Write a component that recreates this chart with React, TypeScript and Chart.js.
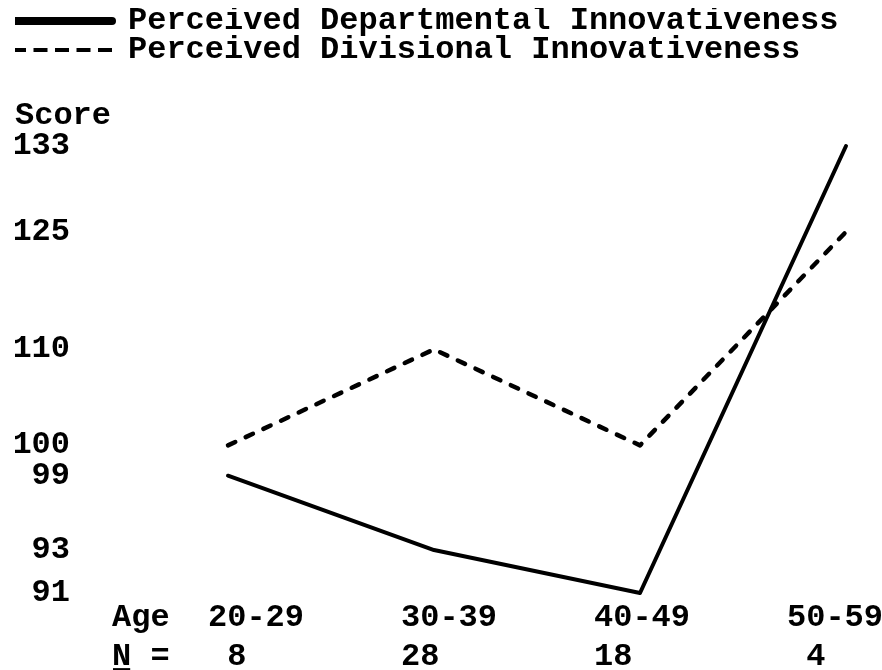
import React, { useEffect, useRef } from 'react';
import { Chart, registerables, LinearScale } from 'chart.js';

// ---- data ----
const AGE_GROUPS = ['20-29', '30-39', '40-49', '50-59'];
const N_COUNTS = [8, 28, 18, 4];
const DEPARTMENTAL = [99, 93, 91, 133];
const DIVISIONAL = [100, 110, 100, 125];
const Y_TICKS = [91, 93, 99, 100, 110, 125, 133];
const SERIES_NAMES = ['Perceived Departmental Innovativeness', 'Perceived Divisional Innovativeness'];
const Y_TITLE = 'Score';
const ROW_TITLES = ['Age', 'N ='];

// ---- style ----
const FONT_FAMILY = "'Liberation Mono', 'DejaVu Sans Mono', monospace";
const FONT_SIZE = 32;
const LINE_HEIGHT = 1.2;
const X_LABEL_PAD = 6;

// Scale whose tick gaps grow with the square root of the value difference,
// values between ticks are interpolated linearly (hand-spaced axis of the original).
class TickGapScale extends LinearScale {
  static id = 'tickGap';
  static defaults = LinearScale.defaults;

  gapInfo() {
    const vals = this.ticks.map((t: any) => t.value).sort((a: number, b: number) => a - b);
    const w: number[] = [];
    let total = 0;
    for (let i = 1; i < vals.length; i++) {
      const g = Math.sqrt(vals[i] - vals[i - 1]);
      w.push(g);
      total += g;
    }
    return { vals, w, total };
  }

  tickDecimal(value: number): number {
    const { vals, w, total } = this.gapInfo();
    if (vals.length < 2 || total === 0) return 0;
    let acc = 0;
    for (let i = 1; i < vals.length; i++) {
      const lo = vals[i - 1];
      const hi = vals[i];
      if (value <= hi || i === vals.length - 1) {
        const f = (value - lo) / (hi - lo);
        return (acc + f * w[i - 1]) / total;
      }
      acc += w[i - 1];
    }
    return 0;
  }

  getPixelForValue(value: number) {
    return this.getPixelForDecimal(this.tickDecimal(value));
  }

  getValueForPixel(pixel: number) {
    const { vals, w, total } = this.gapInfo();
    if (vals.length < 2 || total === 0) return this.min;
    const d = this.getDecimalForPixel(pixel) * total;
    let acc = 0;
    for (let i = 1; i < vals.length; i++) {
      if (d <= acc + w[i - 1] || i === vals.length - 1) {
        const f = (d - acc) / w[i - 1];
        return vals[i - 1] + f * (vals[i] - vals[i - 1]);
      }
      acc += w[i - 1];
    }
    return this.max;
  }
}

Chart.register(...registerables, TickGapScale as any);

const rowTitlesPlugin = {
  id: 'rowTitles',
  afterDraw(chart: any) {
    const xl = chart.scales.xl;
    if (!xl) return;
    const ctx = chart.ctx as CanvasRenderingContext2D;
    ctx.save();
    ctx.font = `bold ${FONT_SIZE}px ${FONT_FAMILY}`;
    ctx.fillStyle = '#000';
    ctx.textAlign = 'left';
    ctx.textBaseline = 'middle';
    const cw = ctx.measureText('0').width;
    const lh = FONT_SIZE * LINE_HEIGHT;
    const x = xl.getPixelForValue(0) - 5 * cw;
    const y1 = xl.top + X_LABEL_PAD + lh / 2;
    const y2 = y1 + lh;
    ctx.fillText(ROW_TITLES[0], x, y1);
    ctx.fillText(ROW_TITLES[1], x, y2);
    // underline the N
    const nw = ctx.measureText(ROW_TITLES[1].charAt(0)).width;
    ctx.fillRect(x + 1, y2 + FONT_SIZE * 0.36, nw - 2, 2);
    ctx.restore();
  },
};

export default function App() {
  const ref = useRef<HTMLCanvasElement>(null);

  useEffect(() => {
    if (!ref.current) return;
    const font = { family: FONT_FAMILY, size: FONT_SIZE, weight: 'bold' as const, lineHeight: LINE_HEIGHT };
    const chart = new Chart(ref.current, {
      type: 'line',
      data: {
        labels: AGE_GROUPS,
        datasets: [
          {
            label: SERIES_NAMES[0],
            data: DEPARTMENTAL,
            borderColor: '#000',
            backgroundColor: '#000',
            borderWidth: 4,
            borderCapStyle: 'round',
            borderJoinStyle: 'round',
            pointRadius: 0,
            tension: 0,
            fill: false,
            clip: false as any,
            xAxisID: 'x',
            yAxisID: 'y',
          },
          {
            label: SERIES_NAMES[1],
            data: DIVISIONAL,
            borderColor: '#000',
            backgroundColor: '#000',
            borderWidth: 4.5,
            borderDash: [8, 11.5],
            borderCapStyle: 'round',
            borderJoinStyle: 'round',
            pointRadius: 0,
            tension: 0,
            fill: false,
            clip: false as any,
            xAxisID: 'x',
            yAxisID: 'y',
          },
        ],
      },
      plugins: [rowTitlesPlugin],
      options: {
        responsive: false,
        devicePixelRatio: 1,
        animation: false,
        events: [],
        layout: { padding: { top: 8, left: 15, right: 36, bottom: 0 } },
        plugins: {
          tooltip: { enabled: false },
          legend: {
            display: true,
            position: 'top',
            align: 'start',
            weight: 3000,
            labels: {
              color: '#000',
              font,
              padding: -3,
              usePointStyle: true,
              pointStyleWidth: 100,
              generateLabels: (c: any) =>
                c.data.datasets.map((ds: any, i: number) => ({
                  text: ds.label,
                  fillStyle: '#000',
                  strokeStyle: '#000',
                  fontColor: '#000',
                  lineWidth: i === 0 ? 8 : 4,
                  lineDash: i === 0 ? [] : [14, 7.5],
                  lineCap: i === 0 ? 'round' : 'butt',
                  pointStyle: 'line',
                  hidden: false,
                  datasetIndex: i,
                })),
            },
          },
          title: {
            display: true,
            text: Y_TITLE,
            align: 'start',
            position: 'top',
            weight: 500,
            color: '#000',
            font,
            padding: { top: 21, bottom: 10.6 },
          },
        },
        scales: {
          x: {
            type: 'category',
            display: false,
            offset: false,
          },
          xl: {
            type: 'linear',
            axis: 'x',
            position: 'bottom',
            bounds: 'data',
            min: 0.1036,
            max: 3.3057,
            grid: { display: false, drawTicks: false },
            border: { display: false },
            afterBuildTicks: (s: any) => {
              s.ticks = AGE_GROUPS.map((_, i) => ({ value: i }));
            },
            afterFit: (s: any) => {
              s.paddingLeft = 0;
              s.paddingRight = 0;
              s.height = 77;
            },
            ticks: {
              color: '#000',
              font,
              padding: X_LABEL_PAD,
              align: 'start',
              autoSkip: false,
              maxRotation: 0,
              minRotation: 0,
              callback: (v: any) => {
                const i = Math.round(Number(v));
                return [AGE_GROUPS[i], String(N_COUNTS[i]).padStart(2, ' ')];
              },
            },
          },
          y: {
            type: 'tickGap' as any,
            position: 'left',
            bounds: 'data',
            min: Y_TICKS[0],
            max: Y_TICKS[Y_TICKS.length - 1],
            grid: { display: false, drawTicks: false },
            border: { display: false },
            afterBuildTicks: (s: any) => {
              s.ticks = Y_TICKS.map((v) => ({ value: v }));
            },
            afterFit: (s: any) => {
              s.width = 213;
              s.paddingTop = 0;
              s.paddingBottom = 0;
            },
            ticks: {
              color: '#000',
              font,
              padding: 158,
              autoSkip: false,
              callback: (v: any) => String(v),
            },
          },
        } as any,
      },
    } as any);
    return () => chart.destroy();
  }, []);

  return (
    <div style={{ position: 'absolute', left: 0, top: 0, width: 882, height: 670, background: '#fff' }}>
      <canvas ref={ref} width={882} height={670} style={{ display: 'block', width: 882, height: 670 }} />
    </div>
  );
}
